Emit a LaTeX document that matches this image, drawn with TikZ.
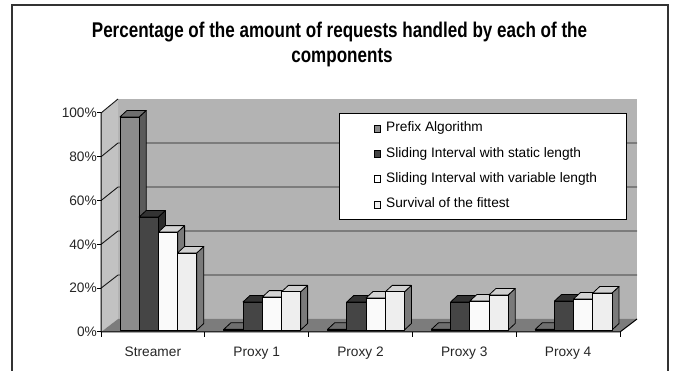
\documentclass[tikz,border=0pt]{standalone}
\usepackage{fontspec}
\setmainfont{Liberation Sans}
\newfontfamily\titlefont[FakeStretch=0.8]{Liberation Sans}

\definecolor{wallback}{HTML}{B3B3B3}
\definecolor{wallside}{HTML}{C2C2C2}
\definecolor{floorgrey}{HTML}{7C7C7C}
\definecolor{prefixF}{HTML}{8C8C8C}
\definecolor{prefixT}{HTML}{6E6E6E}
\definecolor{prefixS}{HTML}{5A5A5A}
\definecolor{staticF}{HTML}{454545}
\definecolor{staticT}{HTML}{333333}
\definecolor{staticS}{HTML}{2A2A2A}
\definecolor{varF}{HTML}{FAFAFA}
\definecolor{varT}{HTML}{D4D4D4}
\definecolor{varS}{HTML}{7A7A7A}
\definecolor{survF}{HTML}{EEEEEE}
\definecolor{survT}{HTML}{D0D0D0}
\definecolor{survS}{HTML}{7A7A7A}

\tikzset{
  barline/.style={draw=black, line width=0.8pt, line join=round},
  gridline/.style={draw=black!90, line width=0.9pt},
  axisline/.style={draw=black, line width=1pt},
  axislabel/.style={inner sep=0pt, font=\fontsize{13.7}{16}\selectfont, text=black!85},
  legendtext/.style={inner sep=0pt, anchor=base west, font=\fontsize{13.7}{16}\selectfont},
  legendmark/.style={draw=black, line width=0.7pt},
  titletext/.style={inner sep=0pt, anchor=base, font=\fontsize{21.3}{26}\titlefont\bfseries}
}

% one 3-D column: left x, value in percent, front / top / side colours
\newcommand\chartbar[5]{%
  \pgfmathsetmacro\bx{#1}%
  \pgfmathsetmacro\bt{330-2.19*#2}%
  \filldraw[fill=#5, barline] (\bx+19.2,330) -- ++(7,-6.5) -- (\bx+26.2,\bt-6.5) -- (\bx+19.2,\bt) -- cycle;
  \filldraw[fill=#4, barline] (\bx,\bt) -- ++(7,-6.5) -- ++(19.2,0) -- (\bx+19.2,\bt) -- cycle;
  \filldraw[fill=#3, barline] (\bx,330) rectangle (\bx+19.2,\bt);
}
% one group of four columns
\newcommand\chartgroup[5]{%
  \pgfmathsetmacro\gx{120+103.8*#1}%
  \chartbar{\gx}{#2}{prefixF}{prefixT}{prefixS}
  \chartbar{\gx+19.2}{#3}{staticF}{staticT}{staticS}
  \chartbar{\gx+38.4}{#4}{varF}{varT}{varS}
  \chartbar{\gx+57.6}{#5}{survF}{survT}{survS}
}

\begin{document}
\begin{tikzpicture}[x=1pt, y=-1pt]
\useasboundingbox (0,0) rectangle (675,371);
\fill[white] (0,0) rectangle (675,371);

% outer chart frame
\draw[black!80, line width=1.3pt] (12,371) -- (12,5) -- (668,5) -- (668,371);

% title
\node[titletext] (title1) at (339.5,38) {Percentage of the amount of requests handled by each of the};
\node[titletext] (title2) at (342,63) {components};

% walls and floor
\fill[wallback] (118,99) rectangle (637,319);
\fill[wallside] (101,332) -- (101,113) -- (118,99) -- (118,319) -- cycle;
\fill[floorgrey] (101,332) -- (118,319) -- (637,319) -- (620,332) -- cycle;

% gridlines (back wall and left wall)
\foreach \k in {1,2,3,4} {
  \draw[gridline] (101,{332-43.8*\k}) -- (118,{319-44*\k}) -- (637,{319-44*\k});
}
\draw[gridline] (101,113) -- (118,99);

% axes
\draw[axisline] (101,113) -- (101,332) -- (620,332) -- (637,319);
\foreach \k/\lab in {0/0\%,1/20\%,2/40\%,3/60\%,4/80\%,5/100\%} {
  \draw[axisline] (97,{332-43.8*\k}) -- (101,{332-43.8*\k});
  \node[axislabel, anchor=east] (ylab\k) at (97,{332-43.8*\k}) {\lab};
}
\foreach \i in {0,...,5} {
  \draw[axisline] ({101+103.8*\i},332) -- ({101+103.8*\i},337);
}

% columns
\chartgroup{0}{97.3}{51.6}{44.7}{35.2}
\chartgroup{1}{0.3}{12.8}{15}{17.4}
\chartgroup{2}{0.3}{12.8}{14.6}{17.4}
\chartgroup{3}{0.3}{12.8}{13.2}{16}
\chartgroup{4}{0.3}{13.2}{14.2}{16.9}

% category labels
\foreach \i/\lab in {0/Streamer,1/Proxy 1,2/Proxy 2,3/Proxy 3,4/Proxy 4} {
  \node[axislabel, anchor=base] (cat\i) at ({152.9+103.8*\i},356) {\lab};
}

% legend
\draw[fill=white, draw=black, line width=0.9pt] (339,113) rectangle (626,219);
\foreach \j/\col/\lab in {0/prefixF/Prefix Algorithm,
                          1/staticF/Sliding Interval with static length,
                          2/white/Sliding Interval with variable length,
                          3/survF/Survival of the fittest} {
  \draw[legendmark, fill=\col] (374,{125+25.3*\j}) rectangle (380,{132+25.3*\j});
  \node[legendtext] (leg\j) at (386,{132+25.3*\j}) {\lab};
}
\end{tikzpicture}
\end{document}
